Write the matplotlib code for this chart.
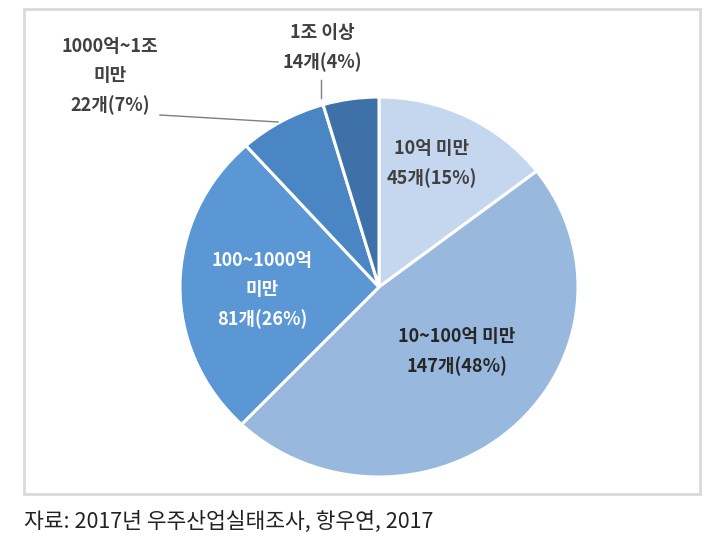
import matplotlib
matplotlib.use("Agg")
import matplotlib.pyplot as plt
from matplotlib.patches import Rectangle

plt.rcParams['font.family'] = ['Noto Sans CJK KR', 'DejaVu Sans']

# data
NAMES = ["10억 미만", "10~100억 미만", "100~1000억\n미만", "1000억~1조\n미만", "1조 이상"]
COUNTS = [45, 147, 81, 22, 14]
PCTS = [15, 48, 26, 7, 4]
COLORS = ["#c5d6ef", "#99b8de", "#5a97d4", "#4a85c4", "#3e71a8"]
SOURCE = "자료: 2017년 우주산업실태조사, 항우연, 2017"

W, H = 721, 544
fig = plt.figure(figsize=(W / 100, H / 100), dpi=100)

def fx(x):
    return x / W

def fy(y):
    return 1 - y / H

# outer frame
fig.patches.append(Rectangle((fx(24), fy(494)), fx(700) - fx(24), fy(9) - fy(494),
                             transform=fig.transFigure, fill=False,
                             edgecolor="#d9d9d9", linewidth=2))

# pie axes (centre 379,287 px, radius ~199 x 190 px)
cx, cy, rx, ry = 379, 287, 199, 190
ax = fig.add_axes([fx(cx - rx), fy(cy + ry), 2 * rx / W, 2 * ry / H])
ax.pie(COUNTS, colors=COLORS, startangle=90, counterclock=False, radius=1,
       wedgeprops=dict(edgecolor="white", linewidth=2.2))
ax.set_aspect("auto")
ax.set_xlim(-1, 1)
ax.set_ylim(-1, 1)
ax.axis("off")

# labels (pixel positions of text centres)
LABEL_POS = [(432, 164), (457, 352), (262, 290), (110, 76), (322, 48)]
LABEL_COL = ["#404040", "#262626", "white", "#404040", "#404040"]
for i in range(len(NAMES)):
    txt = NAMES[i] + "\n" + "%d개(%d%%)" % (COUNTS[i], PCTS[i])
    x, y = LABEL_POS[i]
    fig.text(fx(x), fy(y), txt, ha="center", va="center", fontsize=13,
             fontweight="bold", color=LABEL_COL[i], linespacing=1.65)

# leader lines
fig.add_artist(plt.Line2D([fx(160), fx(278)], [fy(115), fy(122)],
                          transform=fig.transFigure, color="#7f7f7f", linewidth=1))
fig.add_artist(plt.Line2D([fx(321), fx(321)], [fy(80), fy(98)],
                          transform=fig.transFigure, color="#7f7f7f", linewidth=1))

fig.text(fx(24), fy(522), SOURCE, ha="left", va="center", fontsize=15.5, color="#222222")

fig.savefig("out.png", dpi=100)
